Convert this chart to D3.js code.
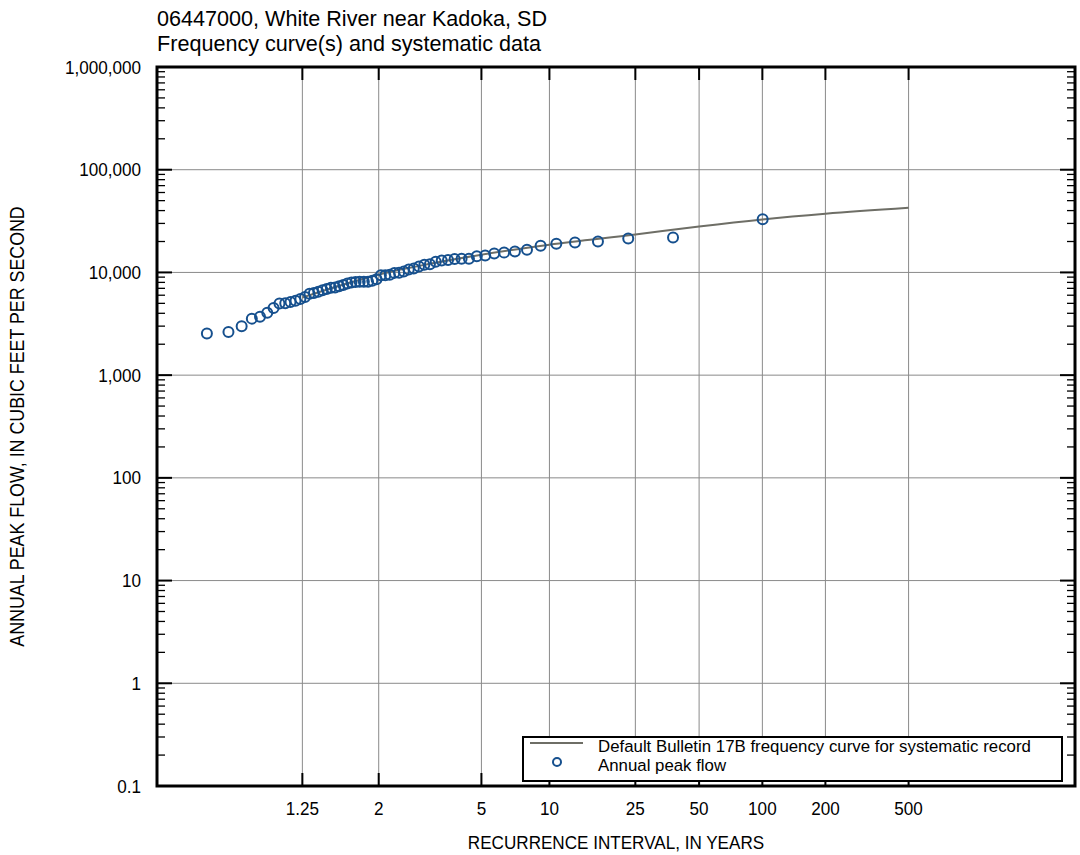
<!DOCTYPE html>
<html>
<head>
<meta charset="utf-8">
<script src="https://cdn.jsdelivr.net/npm/d3@7"></script>
<style>
  html, body { margin: 0; padding: 0; background: #fff; }
  svg { display: block; }
  text { font-family: "Liberation Sans", Arial, sans-serif; fill: #000; }
</style>
</head>
<body>
<svg id="chart" width="1080" height="855"></svg>
<script>
// ---------------- DATA ----------------
const titleLines = ["06447000, White River near Kadoka, SD", "Frequency curve(s) and systematic data"];
const xTickValues = [1.25, 2, 5, 10, 25, 50, 100, 200, 500];          // recurrence interval, years
const xTickLabels = ["1.25", "2", "5", "10", "25", "50", "100", "200", "500"];
const yTickValues = [0.1, 1, 10, 100, 1000, 10000, 100000, 1000000];
const yTickLabels = ["0.1", "1", "10", "100", "1,000", "10,000", "100,000", "1,000,000"];

// Annual peak flow (cfs), ranked from largest, with their plotted recurrence intervals (years)
const peakRecurrence = [100.33, 37.63, 23.15, 16.72, 13.09, 10.75, 9.121, 7.921, 7.000, 6.271,
  5.679, 5.190, 4.778, 4.426, 4.123, 3.859, 3.627, 3.420, 3.237, 3.071,
  2.922, 2.787, 2.664, 2.551, 2.447, 2.352, 2.263, 2.181, 2.105, 2.034,
  1.967, 1.905, 1.847, 1.792, 1.740, 1.691, 1.645, 1.601, 1.560, 1.520,
  1.483, 1.447, 1.413, 1.381, 1.350, 1.320, 1.292, 1.265, 1.239, 1.214,
  1.190, 1.167, 1.144, 1.123, 1.103, 1.083, 1.064, 1.045, 1.027, 1.010];
const peakFlow = [33000, 21900, 21400, 20000, 19600, 19000, 18200, 16600, 16000, 15600,
  15300, 14600, 14400, 13600, 13600, 13500, 13200, 13100, 12700, 12000,
  11900, 11400, 10900, 10700, 10200, 9950, 9900, 9500, 9400, 9400,
  8600, 8300, 8100, 8100, 8100, 8050, 8000, 7800, 7550, 7350,
  7150, 7100, 6900, 6700, 6500, 6300, 6200, 5750, 5500, 5300,
  5150, 5000, 4990, 4500, 4050, 3700, 3550, 3000, 2630, 2550];

// Bulletin 17B frequency curve
const curveRecurrence = [1.25, 1.5, 2, 3, 5, 10, 25, 50, 100, 200, 500];
const curveFlow = [5700, 7300, 9500, 12000, 14900, 18600, 23400, 28000, 32800, 37300, 42600];

const legendLabels = ["Default Bulletin 17B frequency curve for systematic record", "Annual peak flow"];
const xAxisTitle = "RECURRENCE INTERVAL, IN YEARS";
const yAxisTitle = "ANNUAL PEAK FLOW, IN CUBIC FEET PER SECOND";

// ---------------- LAYOUT ----------------
const L = 157, T = 67, R = 1075, B = 786;
const SX = 0.9;   // horizontal condensation of the lettering
const svg = d3.select("#chart");

// Gumbel reduced variate of the non-exceedance probability for a recurrence interval
const gumbel = t => -Math.log(-Math.log(1 - 1 / t));
const x = d3.scaleLinear().domain([-2.08, 8.05]).range([L, R]);
const xT = t => x(gumbel(t));
const y = d3.scaleLog().domain([0.1, 1000000]).range([B, T]);

const gridColor = "#8a8a8a";

// place (optionally condensed) text at (px, py) with optional rotation
function ctext(g, px, py, str, size, anchor, rot, sx) {
  const s = sx == null ? SX : sx;
  return g.append("text")
    .attr("transform", `translate(${px},${py})` + (rot ? ` rotate(${rot})` : "") + ` scale(${s},1)`)
    .attr("text-anchor", anchor || "start")
    .attr("font-size", size)
    .text(str);
}

// grid lines
svg.append("g").selectAll("line").data(yTickValues.slice(1, -1)).join("line")
  .attr("x1", L).attr("x2", R).attr("y1", d => y(d)).attr("y2", d => y(d))
  .attr("stroke", gridColor).attr("stroke-width", 1);
svg.append("g").selectAll("line").data(xTickValues).join("line")
  .attr("x1", d => xT(d)).attr("x2", d => xT(d)).attr("y1", T).attr("y2", B)
  .attr("stroke", gridColor).attr("stroke-width", 1);

// minor y ticks (2..9 in each decade) on left and right, inside
const minorY = [];
for (let i = 0; i < yTickValues.length - 1; i++) {
  for (let k = 2; k <= 9; k++) minorY.push(yTickValues[i] * k);
}
const tickG = svg.append("g").attr("stroke", "#000");
tickG.selectAll(".ml").data(minorY).join("line")
  .attr("x1", L).attr("x2", L + 8).attr("y1", d => y(d)).attr("y2", d => y(d)).attr("stroke-width", 1.3);
tickG.selectAll(".mr").data(minorY).join("line")
  .attr("x1", R).attr("x2", R - 8).attr("y1", d => y(d)).attr("y2", d => y(d)).attr("stroke-width", 1.3);
tickG.selectAll(".Ml").data(yTickValues).join("line")
  .attr("x1", L).attr("x2", L + 15).attr("y1", d => y(d)).attr("y2", d => y(d)).attr("stroke-width", 2);
tickG.selectAll(".Mr").data(yTickValues).join("line")
  .attr("x1", R).attr("x2", R - 15).attr("y1", d => y(d)).attr("y2", d => y(d)).attr("stroke-width", 2);
// x ticks top and bottom
tickG.selectAll(".xb").data(xTickValues).join("line")
  .attr("x1", d => xT(d)).attr("x2", d => xT(d)).attr("y1", B).attr("y2", B - 13).attr("stroke-width", 2);
tickG.selectAll(".xt").data(xTickValues).join("line")
  .attr("x1", d => xT(d)).attr("x2", d => xT(d)).attr("y1", T).attr("y2", T + 13).attr("stroke-width", 2);

// frequency curve
const line = d3.line().x((d, i) => xT(curveRecurrence[i])).y(d => y(d)).curve(d3.curveMonotoneX);
svg.append("path").datum(curveFlow).attr("d", line)
  .attr("fill", "none").attr("stroke", "#6e6e66").attr("stroke-width", 2);

// points
svg.append("g").selectAll("circle").data(peakFlow).join("circle")
  .attr("cx", (d, i) => xT(peakRecurrence[i])).attr("cy", d => y(d)).attr("r", 5)
  .attr("fill", "none").attr("stroke", "#16508e").attr("stroke-width", 2);

// frame
svg.append("rect").attr("x", L).attr("y", T).attr("width", R - L).attr("height", B - T)
  .attr("fill", "none").attr("stroke", "#000").attr("stroke-width", 3);

// tick labels
const ylab = svg.append("g");
yTickValues.forEach((v, i) => ctext(ylab, 141, y(v) + 6.5, yTickLabels[i], 19, "end"));
const xlab = svg.append("g");
xTickValues.forEach((v, i) => ctext(xlab, xT(v), 815, xTickLabels[i], 19, "middle"));

// titles
ctext(svg, 157, 25.5, titleLines[0], 21.6, "start", 0, 1.0);
ctext(svg, 157, 50.5, titleLines[1], 21.6, "start", 0, 1.0);
ctext(svg, (L + R) / 2, 849, xAxisTitle, 19, "middle");
ctext(svg, 24, (T + B) / 2, yAxisTitle, 19.8, "middle", -90);

// legend
const lg = svg.append("g");
lg.append("rect").attr("x", 523).attr("y", 737).attr("width", 539).attr("height", 44)
  .attr("fill", "#fff").attr("stroke", "#000").attr("stroke-width", 2);
lg.append("line").attr("x1", 530).attr("x2", 583).attr("y1", 743).attr("y2", 743)
  .attr("stroke", "#6e6e66").attr("stroke-width", 2);
lg.append("circle").attr("cx", 557).attr("cy", 762).attr("r", 4)
  .attr("fill", "none").attr("stroke", "#16508e").attr("stroke-width", 2);
ctext(lg, 598, 752, legendLabels[0], 16.5, "start", 0, 1.02);
ctext(lg, 598, 771, legendLabels[1], 16.5, "start", 0, 1.02);
</script>
</body>
</html>
